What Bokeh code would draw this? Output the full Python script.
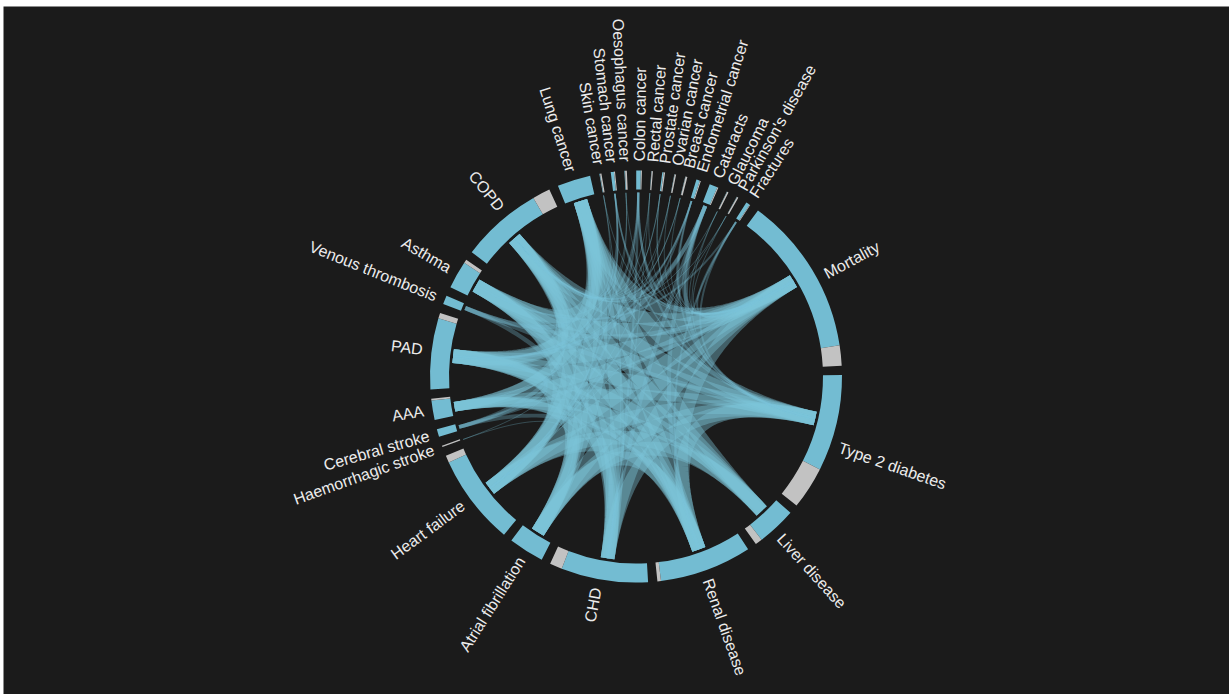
import numpy as np
from bokeh.plotting import figure
from bokeh.models import Range1d, ColumnDataSource
from bokeh.embed import file_html
from bokeh.resources import INLINE
from bokeh.core.properties import value

# ---------------- data ----------------
names = ["Mortality", "Type 2 diabetes", "Liver disease", "Renal disease", "CHD",
         "Atrial fibrillation", "Heart failure", "Haemorrhagic stroke", "Cerebral stroke",
         "AAA", "PAD", "Venous thrombosis", "Asthma", "COPD", "Lung cancer",
         "Skin cancer", "Stomach cancer", "Oesophagus cancer", "Colon cancer",
         "Rectal cancer", "Prostate cancer", "Ovarian cancer", "Breast cancer",
         "Endometrial cancer", "Cataracts", "Glaucoma", "Parkinson's disease", "Fractures"]
# connected share of each outcome (blue) and unconnected share (grey)
linked = [45.0, 27.2, 11.0, 26.0, 24.5, 10.0, 25.5, 0.05, 2.2, 5.5, 20.0, 2.5, 7.8, 23.0, 9.4,
          0.2, 0.9, 0.2, 1.3, 0.1, 0.4, 0.1, 0.1, 1.0, 2.3, 0.1, 0.1, 1.1]
unlinked = [5.7, 12.0, 2.0, 1.0, 3.5, 0.0, 2.0, 0.35, 0.0, 0.5, 1.6, 0.0, 1.0, 5.0, 0.0,
            0.4, 0.3, 0.5, 0.3, 0.35, 0.4, 0.4, 0.5, 0.3, 0.3, 0.4, 0.4, 0.2]

link_from = (
    ["Mortality"] * 11 +
    ["Type 2 diabetes"] * 10 +
    ["Liver disease"] * 7 +
    ["Renal disease"] * 8 +
    ["CHD"] * 6 +
    ["Atrial fibrillation"] * 5 +
    ["Heart failure"] * 4 +
    ["Cerebral stroke"] * 2 +
    ["AAA"] * 2 +
    ["PAD"] * 2 +
    ["Venous thrombosis"] * 1 +
    ["Asthma"] +
    ["Skin cancer"] * 3 +
    ["Stomach cancer"] * 5 +
    ["Oesophagus cancer"] * 3 +
    ["Colon cancer"] * 5 +
    ["Rectal cancer"] * 3 +
    ["Prostate cancer"] * 4 +
    ["Ovarian cancer"] * 3 +
    ["Breast cancer"] * 3 +
    ["Endometrial cancer"] * 5 +
    ["Cataracts"] * 6 +
    ["Glaucoma"] * 3 +
    ["Parkinson's disease"] * 3 +
    ["Fractures"] * 4 +
    ["Haemorrhagic stroke"] * 2
)
link_to = (
    ["Renal disease", "CHD", "Atrial fibrillation", "Heart failure", "Cerebral stroke",
     "AAA", "PAD", "Venous thrombosis", "Asthma", "COPD", "Lung cancer"] +
    ["Renal disease", "CHD", "Atrial fibrillation", "Heart failure", "AAA", "PAD",
     "Venous thrombosis", "Asthma", "COPD", "Lung cancer"] +
    ["Atrial fibrillation", "Heart failure", "AAA", "PAD", "Asthma", "COPD", "Lung cancer"] +
    ["Atrial fibrillation", "Heart failure", "Cerebral stroke", "AAA", "PAD", "Asthma", "COPD", "Lung cancer"] +
    ["AAA", "PAD", "Venous thrombosis", "Asthma", "COPD", "Lung cancer"] +
    ["AAA", "PAD", "Asthma", "COPD", "Lung cancer"] +
    ["PAD", "Asthma", "COPD", "Lung cancer"] +
    ["PAD", "COPD"] +
    ["COPD", "Lung cancer"] +
    ["COPD", "Lung cancer"] +
    ["Lung cancer"] +
    ["Lung cancer"] +
    ["Mortality", "COPD", "CHD"] +
    ["Mortality", "Type 2 diabetes", "COPD", "Heart failure", "PAD"] +
    ["Mortality", "COPD", "Asthma"] +
    ["Mortality", "Type 2 diabetes", "CHD", "Heart failure", "PAD"] +
    ["Mortality", "COPD", "CHD"] +
    ["Mortality", "Type 2 diabetes", "COPD", "AAA"] +
    ["Mortality", "COPD", "Heart failure"] +
    ["Mortality", "COPD", "PAD"] +
    ["Mortality", "Type 2 diabetes", "COPD", "PAD", "Heart failure"] +
    ["Mortality", "Type 2 diabetes", "COPD", "PAD", "CHD", "Renal disease"] +
    ["Mortality", "Type 2 diabetes", "COPD"] +
    ["Mortality", "COPD", "Heart failure"] +
    ["Mortality", "Type 2 diabetes", "Asthma", "Renal disease"] +
    ["Atrial fibrillation", "PAD"]
)

# ---------------- geometry / style ----------------
FRAME_W, FRAME_H = 1226, 688
CX, CY = 632.5, 318.0
R_OUT, R_IN, R_CH, R_LAB = 206.0, 187.0, 184.0, 215.0
START = 36.3
BG = "#1b1b1b"
BLUE = "#73bcd2"
GREY = "#c2c2c2"
CHORD = "#7cc5da"
TXT = "#ececec"

n = len(names)
totals = [a + b for a, b in zip(linked, unlinked)]
gap = (360.0 - sum(totals)) / n
starts = []
cur = START
for t in totals:
    starts.append(cur)
    cur += t + gap
idx = {nm: i for i, nm in enumerate(names)}


def pt(theta, r):
    th = np.radians(theta)
    return CX + r * np.sin(th), CY + r * np.cos(th)


p = figure(width=1229, height=694, output_backend="svg", toolbar_location=None,
           x_range=Range1d(0, FRAME_W), y_range=Range1d(0, FRAME_H),
           x_axis_location=None, y_axis_location=None,
           min_border_left=3, min_border_top=6, min_border_right=0, min_border_bottom=0)
p.grid.visible = False
p.outline_line_color = None
p.background_fill_color = BG
p.border_fill_color = "white"

# ---------------- chords (stroked quadratic curves through the centre) ----------------
port_mid = [s + l / 2.0 for s, l in zip(starts, linked)]
port_px = [min(max(0.55 * l, 0.3), 4.3) * np.pi / 180 * R_CH for l in linked]


def bez(p0, p2, m=60):
    t = np.linspace(0, 1, m)
    x = (1 - t) ** 2 * p0[0] + 2 * (1 - t) * t * CX + t ** 2 * p2[0]
    y = (1 - t) ** 2 * p0[1] + 2 * (1 - t) * t * CY + t ** 2 * p2[1]
    return x, y


xs, ys, lw, la = [], [], [], []
for a, b in zip(link_from, link_to):
    i, j = idx[a], idx[b]
    bx, by = bez(pt(port_mid[i], R_CH), pt(port_mid[j], R_CH))
    xs.append(bx.tolist())
    ys.append(by.tolist())
    w = float(min(port_px[i], port_px[j]))
    lw.append(w)
    la.append(0.4 if w > 6 else 0.3)

p.multi_line(xs="xs", ys="ys", line_width="lw", line_alpha="la", line_color=CHORD,
             line_cap="butt", source=ColumnDataSource(dict(xs=xs, ys=ys, lw=lw, la=la)))

# ---------------- ring ----------------
bs, be, gs, ge = [], [], [], []
for s, l, u in zip(starts, linked, unlinked):
    if l > 0:
        bs.append(np.radians(90 - (s + l)))
        be.append(np.radians(90 - s))
    if u > 0:
        gs.append(np.radians(90 - (s + l + u)))
        ge.append(np.radians(90 - (s + l)))
p.annular_wedge(x=CX, y=CY, inner_radius=R_IN, outer_radius=R_OUT,
                start_angle=bs, end_angle=be, fill_color=BLUE, line_color=None)
p.annular_wedge(x=CX, y=CY, inner_radius=R_IN, outer_radius=R_OUT,
                start_angle=gs, end_angle=ge, fill_color=GREY, line_color=None)

# ---------------- labels ----------------
right = dict(x=[], y=[], t=[], a=[])
left = dict(x=[], y=[], t=[], a=[])
for nm, s, tot in zip(names, starts, totals):
    m = (s + tot / 2.0) % 360
    x, y = pt(m, R_LAB)
    if 0 < m < 180:
        d = right
        ang = np.radians(90 - m)
    else:
        d = left
        ang = np.radians(270 - m)
    d["x"].append(float(x)); d["y"].append(float(y)); d["t"].append(nm); d["a"].append(float(ang))

for d, al in ((right, "left"), (left, "right")):
    p.text(x="x", y="y", text="t", angle="a", source=ColumnDataSource(d),
           text_align=al, text_baseline="middle", text_color=TXT,
           text_font=value("Liberation Sans"), text_font_size="16px")

open("out.html", "w").write(file_html(p, INLINE))
